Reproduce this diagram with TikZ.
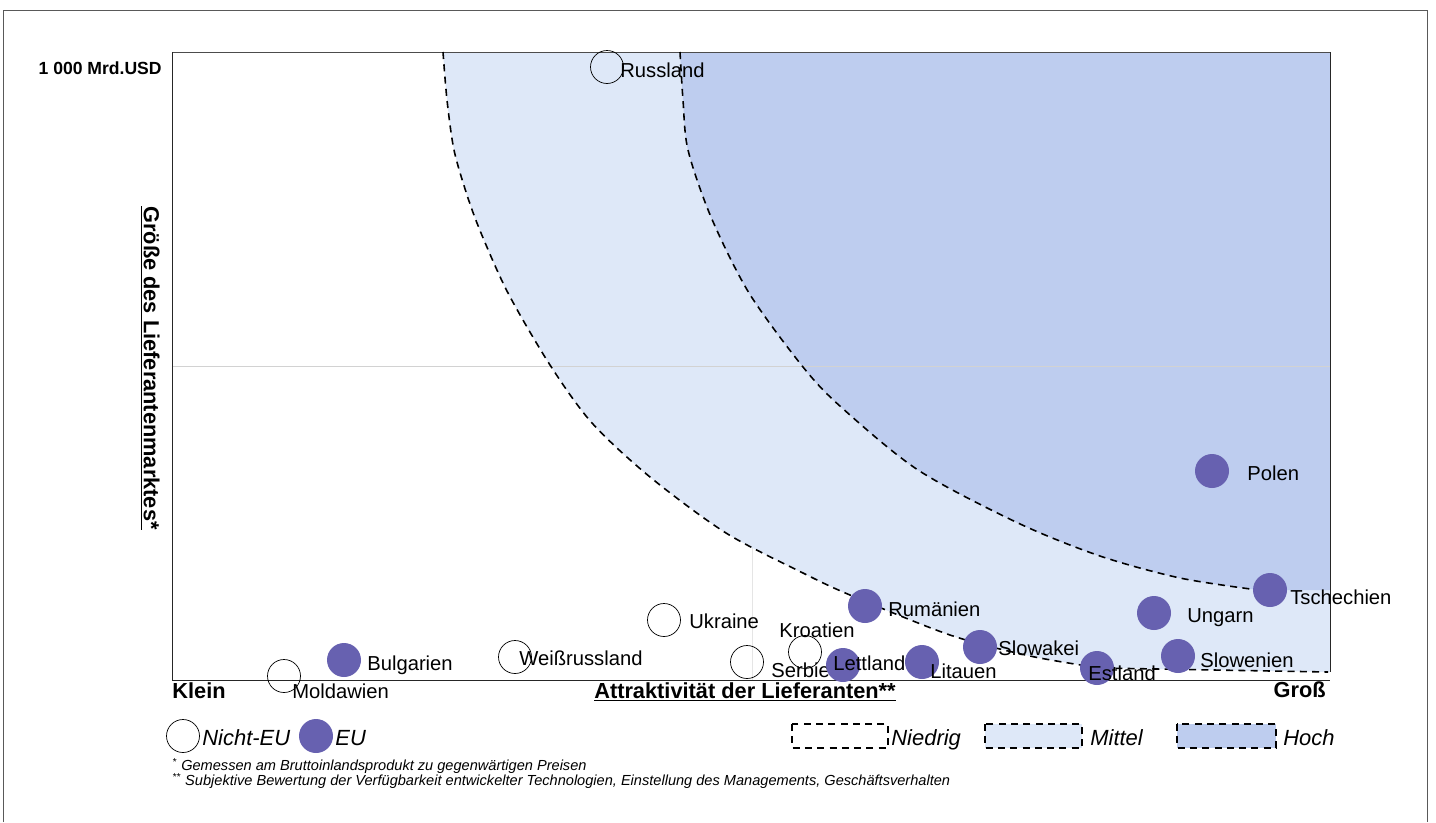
\documentclass[tikz,border=0pt]{standalone}
\usepackage{fontspec}
\setmainfont{Liberation Sans}

\definecolor{mittelblue}{RGB}{222,232,248}
\definecolor{hochblue}{RGB}{190,205,239}
\definecolor{eupurple}{RGB}{103,97,176}

\tikzset{
  eu/.style={circle, fill=eupurple, minimum size=6.8mm, inner sep=0pt},
  noneu/.style={circle, draw=black, thin, minimum size=6.6mm, inner sep=0pt},
  land/.style={anchor=base west, inner sep=0pt, font=\fontsize{11.5}{13}\selectfont},
  legendtext/.style={anchor=base west, inner sep=0pt, font=\fontsize{12.5}{14}\selectfont\itshape},
  axistitle/.style={inner sep=0pt, font=\fontsize{12.4}{14}\selectfont\bfseries},
  border/.style={dashed, line width=0.9pt, dash pattern=on 4pt off 3pt},
  footnote/.style={anchor=west, inner sep=0pt, font=\fontsize{8.3}{10}\selectfont\itshape},
}

\begin{document}
\begin{tikzpicture}[x=0.02cm, y=-0.02cm]
\useasboundingbox (0,0) rectangle (1436,822);

% Frame
\draw[gray!70!black] (3,822) -- (3,10) -- (1427,10) -- (1427,822);

% Grid (under the regions)
\draw[gray!20] (752,52) -- (752,680);

% Regions
\fill[mittelblue] plot[smooth] coordinates {(443,52) (447,100) (454,150) (467,195) (481,233) (508,293) (550,365) (592,423) (650,477) (726,533) (803,573) (850,595) (950,635) (1030,656) (1100,668)} -- (1330,672) -- (1330,52) -- cycle;
\fill[hochblue] plot[smooth] coordinates {(680,52) (683,100) (688,150) (711,217) (749,293) (803,367) (841,407) (918,470) (1018,523) (1100,556) (1180,578) (1258,590)} -- (1330,590) -- (1330,52) -- cycle;

% Axes
\draw[gray!35] (172,366) -- (1330,366);
\draw[gray!60!black] (172,52) -- (1330,52);
\draw[gray!30!black] (172,52) -- (172,680) -- (1330,680);
\draw[gray!30!black] (1330,52) -- (1330,672);

% Curves
\draw[border] plot[smooth] coordinates {(443,52) (447,100) (454,150) (467,195) (481,233) (508,293) (550,365) (592,423) (650,477) (726,533) (803,573) (850,595) (950,635) (1030,656) (1100,668)} -- (1328,672);
\draw[border] plot[smooth] coordinates {(680,52) (683,100) (688,150) (711,217) (749,293) (803,367) (841,407) (918,470) (1018,523) (1100,556) (1180,578) (1258,590)};

% Axis labels
\node[inner sep=0pt, anchor=east, font=\fontsize{10}{12}\selectfont\bfseries] (ymax) at (162,68) {1 000 Mrd.USD};
\node[axistitle, anchor=west] (klein) at (172,691) {Klein};
\node[axistitle, anchor=east] (gross) at (1326,690) {Groß};
\node[axistitle] (xtitle) at (745,692) {\underline{Attraktivität der Lieferanten**}};
\node[axistitle, rotate=-90] (ytitle) at (150,368) {\underline{Größe des Lieferantenmarktes*}};

% Nicht-EU
\node[noneu] (russland) at (607,67) {};    \node[land] (russlandlbl) at (620,77) {Russland};
\node[noneu] (ukraine) at (664,620) {};    \node[land] (ukrainelbl) at (689,628) {Ukraine};
\node[noneu] (kroatien) at (805,652) {};   \node[land] (kroatienlbl) at (779,637) {Kroatien};
\node[noneu] (serbien) at (747,662) {};    \node[land] (serbienlbl) at (771,677) {Serbien};
\node[noneu] (weissrussland) at (515,657) {}; \node[land] (weissrusslandlbl) at (519,665) {Weißrussland};
\node[noneu] (moldawien) at (284,676) {};  \node[land] (moldawienlbl) at (292,698) {Moldawien};

% EU
\node[eu] (bulgarien) at (344,660) {};     \node[land] (bulgarienlbl) at (367,670) {Bulgarien};
\node[eu] (rumaenien) at (865,606) {};     \node[land] (rumaenienlbl) at (888,616) {Rumänien};
\node[eu] (lettland) at (843,665) {};      \node[land] (lettlandlbl) at (833,670) {Lettland};
\node[eu] (litauen) at (922,662) {};       \node[land] (litauenlbl) at (930,678) {Litauen};
\node[eu] (slowakei) at (980,647) {};      \node[land] (slowakeilbl) at (998,655) {Slowakei};
\node[eu] (estland) at (1097,668) {};      \node[land] (estlandlbl) at (1088,680) {Estland};
\node[eu] (slowenien) at (1178,656) {};    \node[land] (slowenienlbl) at (1200,667) {Slowenien};
\node[eu] (ungarn) at (1154,613) {};       \node[land] (ungarnlbl) at (1187,622) {Ungarn};
\node[eu] (tschechien) at (1270,590) {};   \node[land] (tschechienlbl) at (1290,604) {Tschechien};
\node[eu] (polen) at (1212,471) {};        \node[land] (polenlbl) at (1247,480) {Polen};

% Legend
\node[noneu] (lgnoneu) at (183,736) {};    \node[legendtext] (lgnoneulbl) at (202,745) {Nicht-EU};
\node[eu] (lgeu) at (316,736) {};          \node[legendtext] (lgeulbl) at (335,745) {EU};
\draw[border, line width=0.6pt, fill=white] (792,724) rectangle (888,748);
\node[legendtext] (niedrig) at (891,745) {Niedrig};
\draw[border, line width=0.6pt, fill=mittelblue] (985,724) rectangle (1082,748);
\node[legendtext] (mittel) at (1090,745) {Mittel};
\draw[border, line width=0.6pt, fill=hochblue] (1177,724) rectangle (1276,748);
\node[legendtext] (hoch) at (1283,745) {Hoch};

% Footnotes
\node[footnote] (fn1) at (172,766) {\textsuperscript{*} Gemessen am Bruttoinlandsprodukt zu gegenwärtigen Preisen};
\node[footnote] (fn2) at (172,781) {\textsuperscript{**} Subjektive Bewertung der Verfügbarkeit entwickelter Technologien, Einstellung des Managements, Geschäftsverhalten};
\end{tikzpicture}
\end{document}
